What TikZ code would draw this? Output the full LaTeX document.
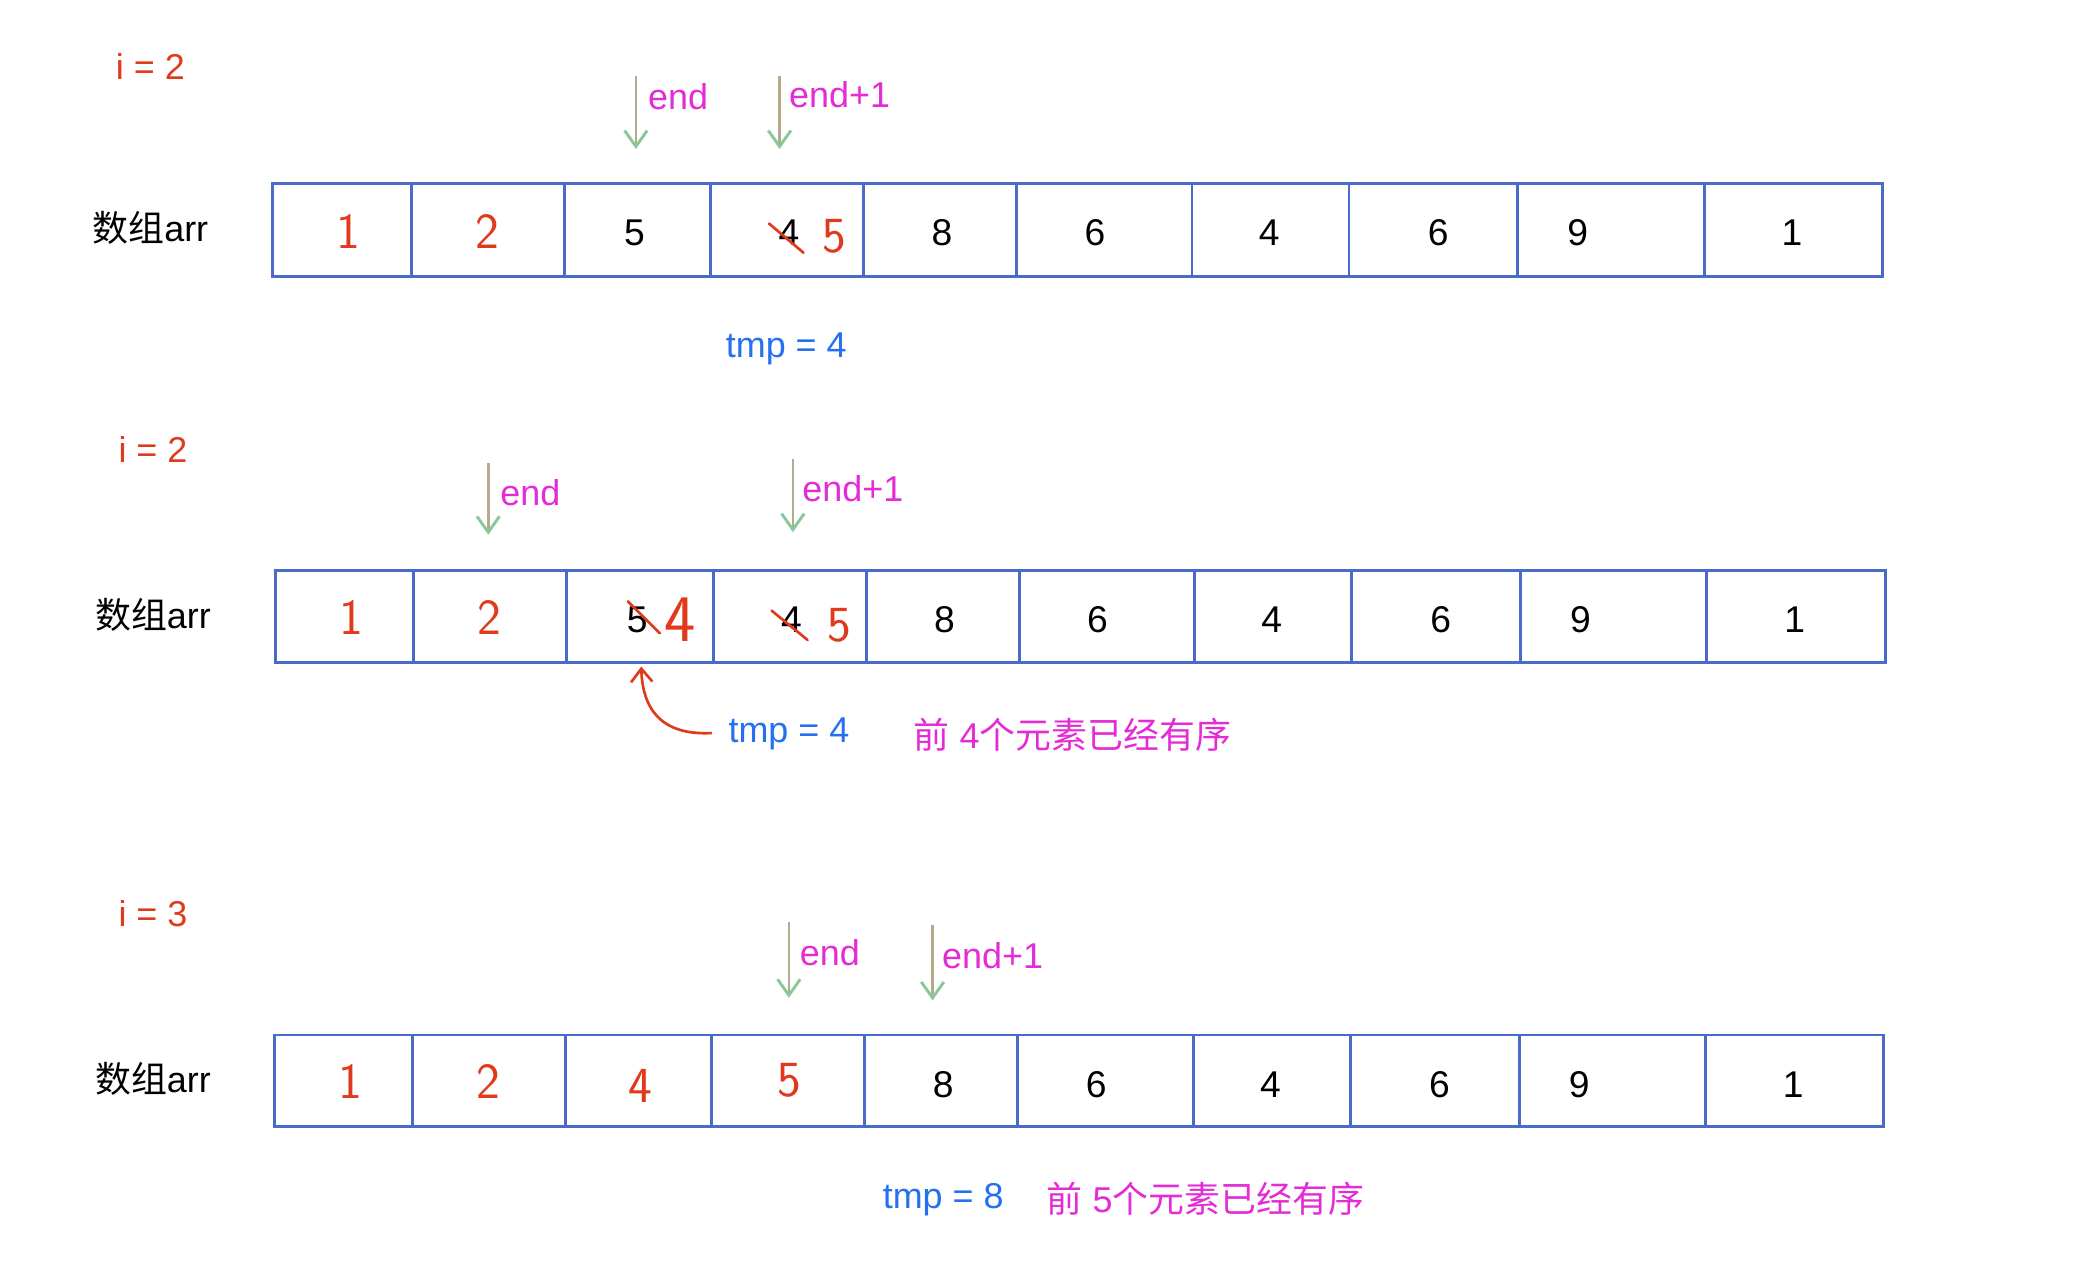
\documentclass[tikz,border=0pt]{standalone}
\usepackage{fontspec}
\setmainfont{Liberation Sans}
\newfontfamily\cjk{Noto Sans CJK SC}
\usetikzlibrary{arrows.meta}
\definecolor{boxblue}{HTML}{4A6BC9}
\definecolor{hred}{HTML}{E0391C}
\definecolor{mag}{HTML}{E52BD6}
\definecolor{tblue}{HTML}{2470F0}
\definecolor{stemcol}{HTML}{B2AC8C}
\definecolor{agreen}{HTML}{8CC79A}
\begin{document}
\begin{tikzpicture}[x=1pt,y=-1pt,
  lbl/.style={font=\fontsize{27}{30}\selectfont, inner sep=0pt},
  ival/.style={lbl, text=hred},
  arrname/.style={lbl},
  val/.style={font=\fontsize{28}{30}\selectfont, inner sep=0pt, text=black},
  hval/.style={font=\sffamily\fontsize{38}{40}\selectfont, inner sep=0pt, text=hred},
  ptrlbl/.style={lbl, text=mag, anchor=west},
  tmplbl/.style={lbl, text=tblue},
  note/.style={lbl, text=mag},
  cellline/.style={draw=boxblue, line width=2.2pt},
  ptr/.style={draw=stemcol, line width=2pt,
    -{Straight Barb[length=12pt, width=17pt, line width=2.2pt, color=agreen]}},
  strike/.style={draw=hred, line width=2pt, line cap=round},
  redarrow/.style={draw=hred, line width=2pt,
    -{Straight Barb[length=10pt, width=16pt, line width=2pt]}}
]
\useasboundingbox (0,0) rectangle (1568,965);
\fill[white] (0,0) rectangle (1568,965);

% ---------------- Row 1 ----------------
\node[ival] (i1) at (113,50) {i = 2};
\node[arrname] (a1) at (113,171) {{\cjk 数组}arr};
\draw[cellline] (205,138) rectangle (1415,208);
\foreach \x in {309,424,534,649,764,896,1014,1141,1281}
  \draw[cellline] (\x,138) -- (\x,208);
\node[hval] (r1c1) at (262,174) {1};
\node[hval] (r1c2) at (366,174) {2};
\node[val] (r1c3) at (477,175) {5};
\node[val] (r1c4) at (593,175) {4};
\node[hval] (r1c4b) at (627,178) {5};
\draw[strike] (578,168) -- (604,190);
\node[val] (r1c5) at (708,175) {8};
\node[val] (r1c6) at (823,175) {6};
\node[val] (r1c7) at (954,175) {4};
\node[val] (r1c8) at (1081,175) {6};
\node[val] (r1c9) at (1186,175) {9};
\node[val] (r1c10) at (1347,175) {1};
\coordinate (e1s) at (478,57);
\coordinate (e1t) at (478,112);
\coordinate (f1s) at (586,57);
\coordinate (f1t) at (586,112);
\draw[ptr] (e1s) -- (e1t);
\draw[ptr] (f1s) -- (f1t);
\node[ptrlbl] (e1) at (487,73) {end};
\node[ptrlbl] (f1) at (593,71) {end+1};
\node[tmplbl] (t1) at (591,262) {tmp = 4};

% ---------------- Row 2 ----------------
\node[ival] (i2) at (115,338) {i = 2};
\node[arrname] (a2) at (115,462) {{\cjk 数组}arr};
\draw[cellline] (207,429) rectangle (1417,498);
\foreach \x in {311,426,536,651,766,898,1016,1143,1283}
  \draw[cellline] (\x,429) -- (\x,498);
\node[hval] (r2c1) at (264,464) {1};
\node[hval] (r2c2) at (368,464) {2};
\node[val] (r2c3) at (479,466) {5};
\node[hval, font=\sffamily\fontsize{50}{54}\selectfont] (r2c3b) at (511,466) {4};
\draw[strike] (472,452) -- (496,476);
\node[val] (r2c4) at (595,466) {4};
\node[hval] (r2c4b) at (631,470) {5};
\draw[strike] (580,459) -- (607,481);
\node[val] (r2c5) at (710,466) {8};
\node[val] (r2c6) at (825,466) {6};
\node[val] (r2c7) at (956,466) {4};
\node[val] (r2c8) at (1083,466) {6};
\node[val] (r2c9) at (1188,466) {9};
\node[val] (r2c10) at (1349,466) {1};
\coordinate (e2s) at (367,348);
\coordinate (e2t) at (367,402);
\coordinate (f2s) at (596,345);
\coordinate (f2t) at (596,400);
\draw[ptr] (e2s) -- (e2t);
\draw[ptr] (f2s) -- (f2t);
\node[ptrlbl] (e2) at (376,370) {end};
\node[ptrlbl] (f2) at (603,367) {end+1};
\node[tmplbl] (t2) at (593,552) {tmp = 4};
\node[note] (n2) at (806,552) {{\cjk 前} 4{\cjk 个元素已经有序}};
\coordinate (c2s) at (535,551);
\coordinate (c2t) at (482,501);
\draw[redarrow] (c2s) .. controls (496,553) and (483,532) .. (c2t);

% ---------------- Row 3 ----------------
\node[ival] (i3) at (115,687) {i = 3};
\node[arrname] (a3) at (115,811) {{\cjk 数组}arr};
\draw[cellline] (206,778) rectangle (1416,847);
\foreach \x in {310,425,535,650,765,897,1015,1142,1282}
  \draw[cellline] (\x,778) -- (\x,847);
\node[hval] (r3c1) at (263,813) {1};
\node[hval] (r3c2) at (367,813) {2};
\node[hval] (r3c3) at (481,816) {4};
\node[hval] (r3c4) at (593,812) {5};
\node[val] (r3c5) at (709,815) {8};
\node[val] (r3c6) at (824,815) {6};
\node[val] (r3c7) at (955,815) {4};
\node[val] (r3c8) at (1082,815) {6};
\node[val] (r3c9) at (1187,815) {9};
\node[val] (r3c10) at (1348,815) {1};
\coordinate (e3s) at (593,693);
\coordinate (e3t) at (593,750);
\coordinate (f3s) at (701,695);
\coordinate (f3t) at (701,752);
\draw[ptr] (e3s) -- (e3t);
\draw[ptr] (f3s) -- (f3t);
\node[ptrlbl] (e3) at (601,716) {end};
\node[ptrlbl] (f3) at (708,718) {end+1};
\node[tmplbl] (t3) at (709,902) {tmp = 8};
\node[note] (n3) at (906,901) {{\cjk 前} 5{\cjk 个元素已经有序}};
\end{tikzpicture}
\end{document}
